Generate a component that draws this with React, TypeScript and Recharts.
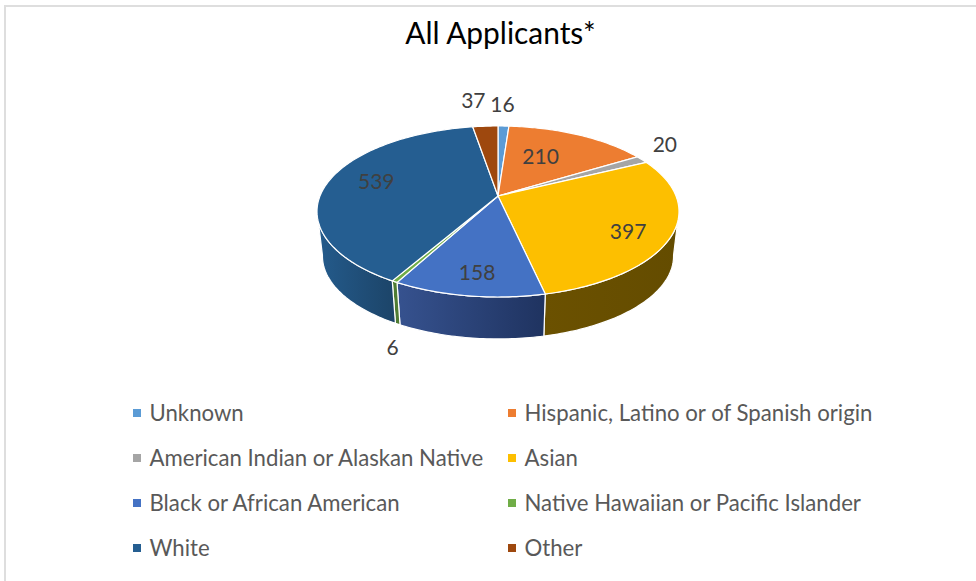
import React from 'react'
import { PieChart, Pie, Legend } from 'recharts'

const names = [
  'Unknown',
  'Hispanic, Latino or of Spanish origin',
  'American Indian or Alaskan Native',
  'Asian',
  'Black or African American',
  'Native Hawaiian or Pacific Islander',
  'White',
  'Other',
]
const values = [16, 210, 20, 397, 158, 6, 539, 37]
const COLORS = ['#5b9bd5', '#ed7d31', '#a5a5a5', '#fdbf00', '#4472c4', '#70ad47', '#255e91', '#9e480e']
// side wall gradient, left to right
const WALL_LEFT = ['#3d6b94', '#a0541f', '#6e6e6e', '#6b5100', '#36528f', '#4f7c33', '#245b8c', '#6a300a']
const WALL_RIGHT = ['#3d6b94', '#a0541f', '#6e6e6e', '#644c00', '#1f3360', '#4f7c33', '#1c4468', '#6a300a']
// label nudge from the middle of each slice's rim
const LABEL_NUDGE = [[-1, -23], [-38, 21], [23, -16], [-44, -4], [9, -24], [-2, 65], [48, -1], [-12, -27]]

const table = names.map((name, i) => ({ name, value: values[i], fill: COLORS[i] }))

const PIE_X = 498
const PIE_Y = 196
const RADIUS = 178
// the pie lies tilted: squash + perspective
const SQUASH = 0.4646
const PERSP = 0.181
const BOTTOM_SCALE = 0.97
const BOTTOM_DROP = 45

// theta: degrees clockwise from top
function project(cx: number, cy: number, R: number, theta: number, r = 1) {
  const t = (theta * Math.PI) / 180
  const u = r * Math.sin(t)
  const v = r * Math.cos(t)
  const d = 1 + PERSP * v
  return { x: cx + (R * u) / d, y: cy - (R * SQUASH * v) / d }
}

function rim(cx: number, cy: number, R: number, from: number, to: number) {
  const pts: { x: number; y: number }[] = []
  const n = Math.max(2, Math.ceil(Math.abs(to - from)))
  for (let i = 0; i <= n; i++) pts.push(project(cx, cy, R, from + ((to - from) * i) / n))
  return pts
}

const toPath = (pts: { x: number; y: number }[]) =>
  pts.map((p, i) => `${i ? 'L' : 'M'}${p.x.toFixed(2)} ${p.y.toFixed(2)}`).join(' ')

function Slice3D(props: any) {
  const { cx, cy, outerRadius, startAngle, endAngle, fill, name } = props
  const idx = names.indexOf(name)
  const from = 90 - startAngle
  const to = 90 - endAngle
  const top = rim(cx, cy, outerRadius, from, to)
  const a = Math.max(from, 100)
  const b = Math.min(to, 260)
  let wall = null
  if (b > a) {
    const upper = rim(cx, cy, outerRadius, a, b)
    const lower = rim(cx, cy + BOTTOM_DROP, outerRadius * BOTTOM_SCALE, a, b).reverse()
    wall = (
      <>
        <defs>
          <linearGradient id={`wall${idx}`} x1="0" y1="0" x2="1" y2="0">
            <stop offset="0" stopColor={WALL_LEFT[idx]} />
            <stop offset="1" stopColor={WALL_RIGHT[idx]} />
          </linearGradient>
        </defs>
        <path d={toPath([...upper, ...lower]) + ' Z'} fill={`url(#wall${idx})`} stroke="#fff" strokeWidth={1.2} />
      </>
    )
  }
  return (
    <g>
      {wall}
      <path d={`M${cx} ${cy} ${toPath(top).replace('M', 'L')} Z`} fill={fill} stroke="#fff" strokeWidth={1.2} />
    </g>
  )
}

function renderLabel(props: any) {
  const { cx, cy, outerRadius, midAngle, index, value } = props
  const p = project(cx, cy, outerRadius, 90 - midAngle)
  const [dx, dy] = LABEL_NUDGE[index]
  return (
    <text x={p.x + dx} y={p.y + dy} textAnchor="middle" dominantBaseline="central" fill="#404040" fontFamily="Lato" fontSize={21}>
      {value}
    </text>
  )
}

function renderLegend(props: any) {
  return (
    <div style={{ display: 'grid', gridTemplateColumns: '375px 1fr', gridAutoRows: '45px', fontFamily: 'Lato', fontSize: 22.2, color: '#595959' }}>
      {props.payload.map((entry: any) => (
        <div key={entry.value} style={{ display: 'flex', alignItems: 'center', height: 45 }}>
          <span style={{ width: 8, height: 8, background: entry.color, marginRight: 8.5, flex: 'none' }} />
          <span style={{ whiteSpace: 'nowrap' }}>{entry.value}</span>
        </div>
      ))}
    </div>
  )
}

export default function App() {
  return (
    <div style={{ position: 'absolute', left: 0, top: 0, width: 976, height: 581, overflow: 'hidden', background: '#fff' }}>
      <div style={{ position: 'absolute', left: 4, top: 5, width: 972, height: 576, borderTop: '2px solid #dedede', borderLeft: '2px solid #dedede' }} />
      <PieChart width={976} height={581} style={{ position: 'absolute', left: 0, top: 0 }} margin={{ top: 0, right: 0, bottom: 0, left: 0 }}>
        <text x={500.5} y={32} textAnchor="middle" dominantBaseline="central" fontFamily="Lato" fontSize={29.9} fill="#000">
          All Applicants*
        </text>
        <Pie
          data={table}
          dataKey="value"
          nameKey="name"
          cx={PIE_X}
          cy={PIE_Y}
          innerRadius={0}
          outerRadius={RADIUS}
          startAngle={90}
          endAngle={-270}
          stroke="#fff"
          shape={Slice3D}
          label={renderLabel}
          labelLine={false}
          isAnimationActive={false}
        />
        <Legend
          content={renderLegend}
          itemSorter={null}
          wrapperStyle={{ left: 133, top: 390, width: 800, bottom: 'auto', right: 'auto' }}
        />
      </PieChart>
    </div>
  )
}
